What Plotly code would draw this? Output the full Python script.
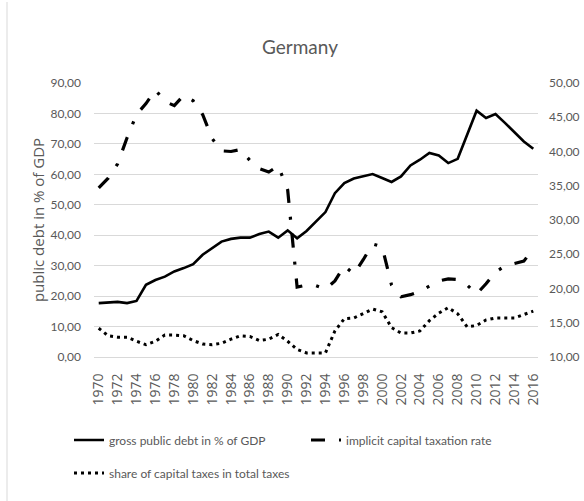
import plotly.graph_objects as go

# --- data -------------------------------------------------------------
years = list(range(1970, 2017))

gross_debt = [
    17.7, 17.8, 18.1, 17.7, 18.4, 23.7, 25.3, 26.4, 28.1, 29.2,
    30.5, 33.6, 35.8, 37.9, 38.8, 39.2, 39.2, 40.4, 41.2, 39.2,
    41.6, 39.0, 41.4, 44.5, 47.6, 53.8, 57.1, 58.6, 59.3, 60.1,
    58.8, 57.5, 59.3, 62.9, 64.8, 67.0, 66.2, 63.7, 65.1, 73.0,
    80.9, 78.5, 79.8, 76.9, 73.9, 70.8, 68.4,
]

implicit_rate = [
    34.7, 36.1, 38.2, 42.0, 45.4, 47.0, 49.0, 47.3, 46.7, 48.2,
    47.4, 45.4, 41.9, 40.1, 40.0, 40.3, 38.7, 37.5, 37.0, 37.9,
    34.4, 20.2, 20.5, 20.4, 19.9, 21.1, 23.3, 22.1, 24.2, 26.5,
    26.1, 20.5, 18.8, 19.1, 19.6, 20.4, 21.1, 21.4, 21.3, 20.5,
    19.2, 20.7, 22.4, 23.3, 23.6, 24.0, 25.8,
]

capital_share = [
    14.2, 13.1, 12.9, 12.9, 12.3, 11.8, 12.3, 13.2, 13.2, 13.1,
    12.4, 11.9, 11.8, 12.0, 12.6, 13.1, 13.0, 12.4, 12.6, 13.3,
    12.3, 11.1, 10.6, 10.6, 10.6, 13.8, 15.6, 15.7, 16.3, 17.0,
    16.6, 14.3, 13.5, 13.5, 13.8, 15.3, 16.4, 17.2, 16.3, 14.4,
    14.6, 15.4, 15.7, 15.7, 15.7, 16.2, 16.7,
]

tick_years = list(range(1970, 2017, 2))
tick_labels = [str(y) for y in tick_years]

left_ticks = list(range(0, 91, 10))
right_ticks = list(range(10, 51, 5))

# --- layout constants -------------------------------------------------
W, H = 584, 501
M_L, M_R, M_T, M_B = 94, 46, 83, 144
plot_w = W - M_L - M_R
plot_h = H - M_T - M_B

FONT = "Lato, 'Liberation Sans Narrow', sans-serif"
WIDE_FONT = "'Open Sans', Lato, sans-serif"
TXT = "#595959"
GRID = "#d9d9d9"


def px_to_paper_x(px):
    return (px - M_L) / plot_w


def px_to_paper_y(py):
    return (H - M_B - py) / plot_h


fig = go.Figure()

fig.add_trace(go.Scatter(
    x=years, y=gross_debt, mode="lines",
    name="gross public debt in % of GDP",
    line=dict(color="black", width=2.6),
    legend="legend", showlegend=True,
))
fig.add_trace(go.Scatter(
    x=years, y=implicit_rate, mode="lines",
    name="implicit capital taxation rate",
    line=dict(color="black", width=3.2, dash="14px,14px,3px,14px"),
    yaxis="y2",
    legend="legend3", showlegend=True,
))
fig.add_trace(go.Scatter(
    x=years, y=capital_share, mode="lines",
    name="share of capital taxes in total taxes",
    line=dict(color="black", width=3, dash="3px,4px"),
    yaxis="y2",
    legend="legend2", showlegend=True,
))

legend_font = dict(family=FONT, size=12, color=TXT)


def legend_box(px_x, px_y):
    return dict(
        orientation="h",
        x=px_to_paper_x(px_x), xanchor="left",
        y=px_to_paper_y(px_y), yanchor="middle",
        font=legend_font,
        bgcolor="rgba(0,0,0,0)",
        visible=True,
    )


fig.update_layout(
    width=W, height=H,
    showlegend=True,
    margin=dict(l=M_L, r=M_R, t=M_T, b=M_B, autoexpand=False),
    paper_bgcolor="white",
    plot_bgcolor="white",
    separators=",.",
    font=dict(family=FONT, color=TXT),
    title=dict(
        text="Germany",
        font=dict(family=FONT, size=19, color=TXT),
        x=px_to_paper_x(300), xref="paper", xanchor="center",
        y=1 - 47 / H, yref="container", yanchor="middle",
    ),
    xaxis=dict(
        range=[1969.5, 2016.5],
        tickmode="array", tickvals=tick_years, ticktext=tick_labels,
        tickangle=-90,
        tickfont=dict(family=WIDE_FONT, size=14, color=TXT),
        ticklabelstandoff=10,
        showgrid=False, zeroline=False,
        showline=True, linecolor=GRID, linewidth=1,
        ticks="",
    ),
    yaxis=dict(
        range=[0, 90],
        tickmode="array", tickvals=left_ticks, tickformat=".2f",
        tickfont=dict(family=FONT, size=12, color=TXT),
        ticklabelstandoff=12,
        showgrid=True, gridcolor=GRID, gridwidth=1,
        zeroline=False, showline=False, ticks="",
        title=dict(text="public debt in % of GDP",
                   font=dict(family=WIDE_FONT, size=15, color=TXT),
                   standoff=2),
    ),
    yaxis2=dict(
        range=[10, 50], overlaying="y", side="right",
        tickmode="array", tickvals=right_ticks, tickformat=".2f",
        tickfont=dict(family=FONT, size=12, color=TXT),
        ticklabelstandoff=10,
        showgrid=False, zeroline=False, showline=False, ticks="",
    ),
    legend=legend_box(69, 440),
    legend3=legend_box(306, 440),
    legend2=legend_box(69, 473),
    shapes=[dict(
        type="line", xref="paper", yref="paper",
        x0=px_to_paper_x(7), x1=px_to_paper_x(7),
        y0=px_to_paper_y(2), y1=px_to_paper_y(501),
        line=dict(color=GRID, width=1),
    )],
)

fig.write_html("out.html")
